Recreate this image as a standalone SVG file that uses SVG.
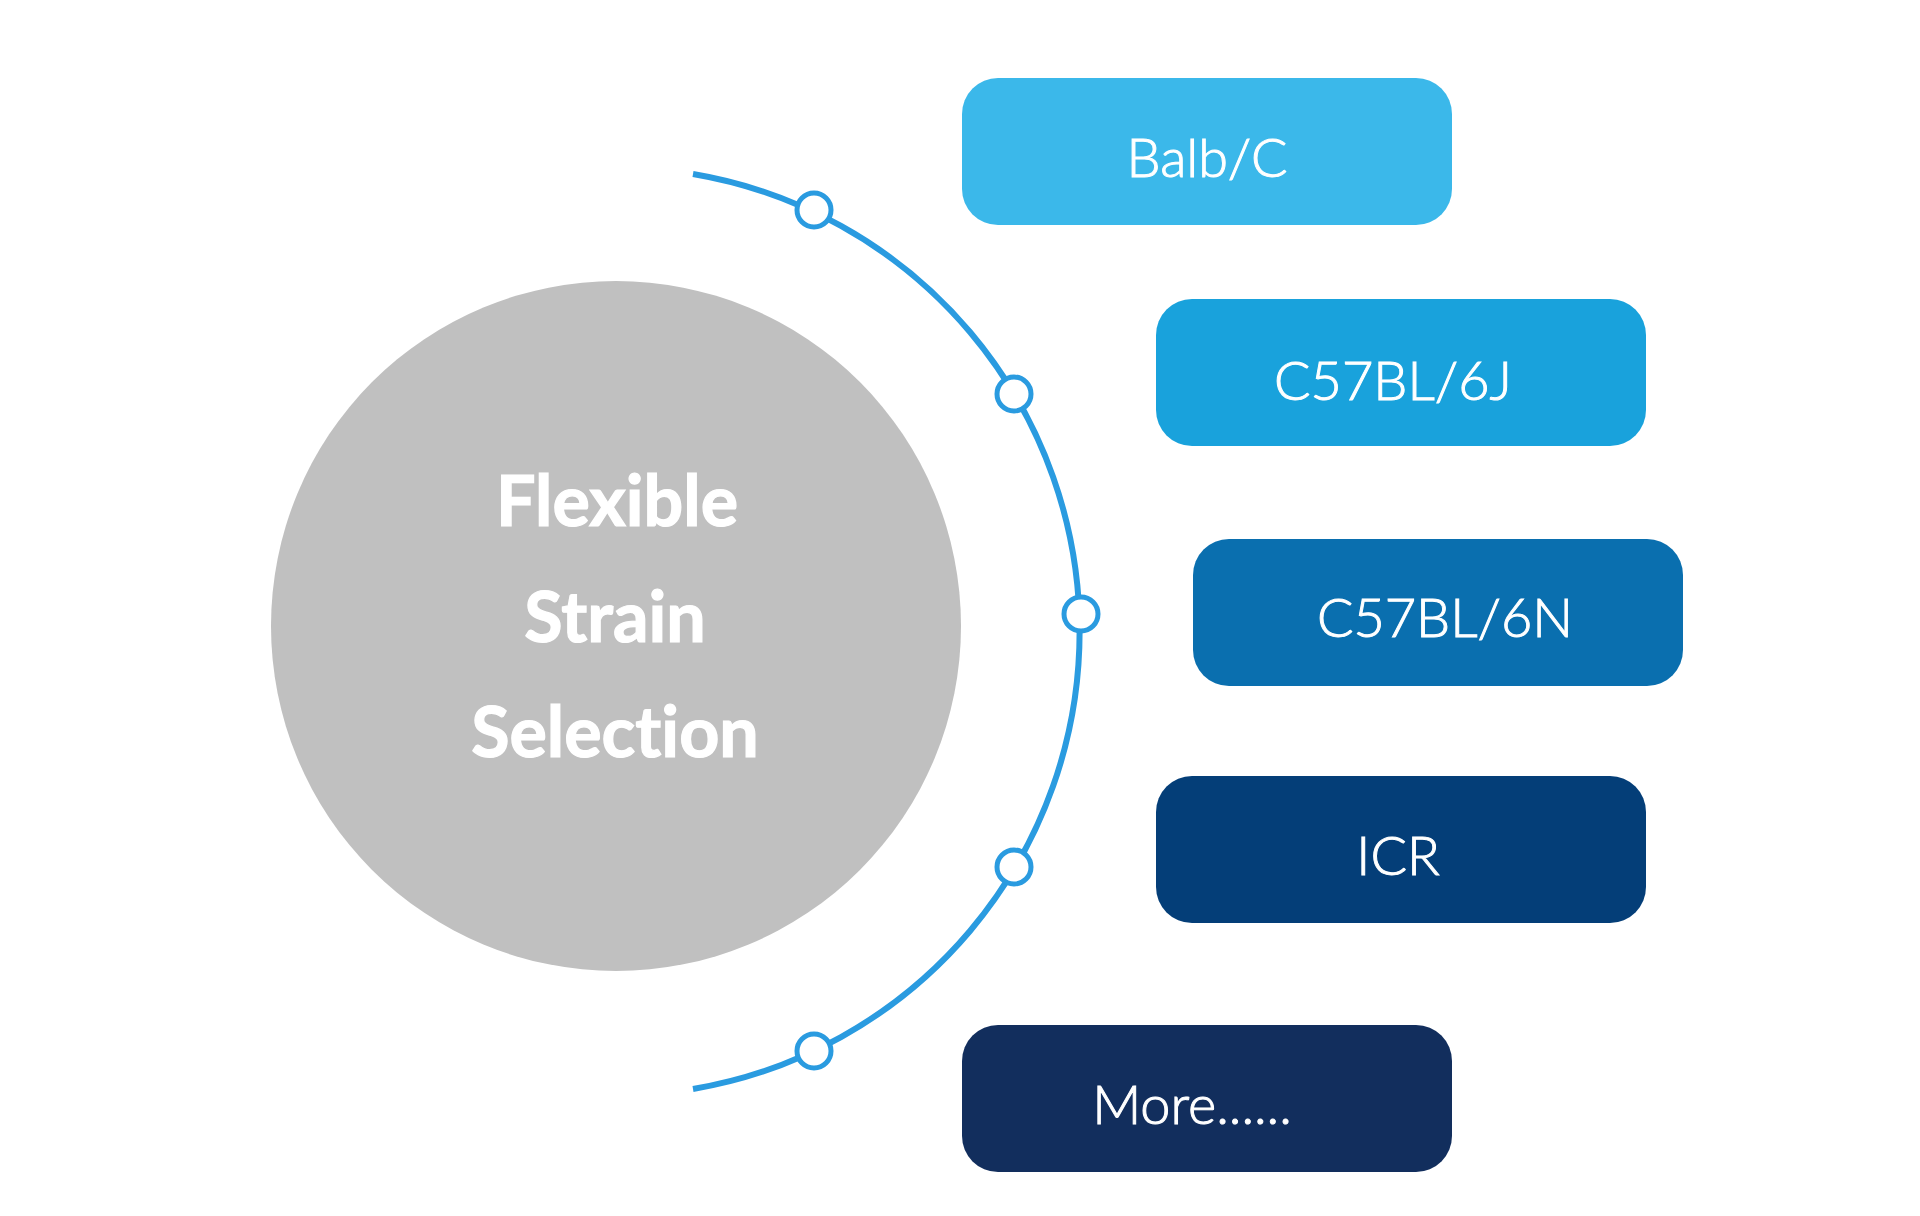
<svg xmlns="http://www.w3.org/2000/svg" width="1920" height="1216" viewBox="0 0 1920 1216">
  <style>
    text { font-variant-ligatures: none; font-feature-settings: "liga" 0, "clig" 0; }
    .box-label { font-family: Lato, "Liberation Sans", sans-serif; font-weight: 300; font-size: 54px; fill: #ffffff; stroke: #ffffff; stroke-width: 1; text-anchor: middle; }
    .hub-label { font-family: Lato, "Liberation Sans", sans-serif; font-weight: 700; font-size: 70px; fill: #ffffff; stroke: #ffffff; stroke-width: 1.2; text-anchor: middle; }
    .dot { fill: #ffffff; stroke: #2A9BE0; stroke-width: 5; }
  </style>
  <rect width="1920" height="1216" fill="#ffffff"/>
  <g id="hub">
    <circle cx="616" cy="626" r="345" fill="#C0C0C0"/>
    <text class="hub-label" x="617" y="526">Flexible</text>
    <text class="hub-label" x="615" y="642">Strain</text>
    <text class="hub-label" x="615" y="757">Selection</text>
  </g>
  <g id="connectors">
    <path d="M 693 174 A 464 464 0 0 1 693 1089" fill="none" stroke="#2A9BE0" stroke-width="6"/>
    <circle class="dot" cx="814" cy="210" r="17"/>
    <circle class="dot" cx="1014" cy="394" r="17"/>
    <circle class="dot" cx="1081" cy="614" r="17"/>
    <circle class="dot" cx="1014" cy="867" r="17"/>
    <circle class="dot" cx="814" cy="1051" r="17"/>
  </g>
  <g id="node-balbc">
    <rect x="962" y="78" width="490" height="147" rx="36" fill="#3BB8EA"/>
    <text class="box-label" x="1207" y="177">Balb/C</text>
  </g>
  <g id="node-c57bl6j">
    <rect x="1156" y="299" width="490" height="147" rx="36" fill="#19A2DC"/>
    <text class="box-label" x="1393" y="400">C57BL/6J</text>
  </g>
  <g id="node-c57bl6n">
    <rect x="1193" y="539" width="490" height="147" rx="36" fill="#0A6FAF"/>
    <text class="box-label" x="1445" y="637">C57BL/6N</text>
  </g>
  <g id="node-icr">
    <rect x="1156" y="776" width="490" height="147" rx="36" fill="#043E78"/>
    <text class="box-label" x="1398" y="875">ICR</text>
  </g>
  <g id="node-more">
    <rect x="962" y="1025" width="490" height="147" rx="36" fill="#122E5D"/>
    <text class="box-label" x="1192" y="1124">More......</text>
  </g>
</svg>
